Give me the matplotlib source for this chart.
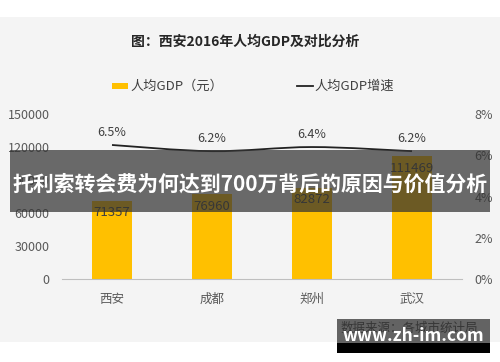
import numpy as np
import matplotlib
matplotlib.use("Agg")
import matplotlib.pyplot as plt
from matplotlib.patches import Rectangle, PathPatch
from matplotlib.path import Path

plt.rcParams["font.family"] = ["Noto Sans CJK SC", "DejaVu Sans"]

cities = ["西安", "成都", "郑州", "武汉"]
gdp_per_capita = [71357, 76960, 82872, 111469]
growth_rate = [6.5, 6.2, 6.4, 6.2]
left_ticks = [0, 30000, 60000, 90000, 120000, 150000]
right_ticks = [0, 2, 4, 6, 8]

title = "图：西安2016年人均GDP及对比分析"
banner = "托利索转会费为何达到700万背后的原因与价值分析"
source = "数据来源：各城市统计局"
watermark = "www.zh-im.com"

BAR = "#FFC000"
TICK = "#595959"


def smooth_path(x, y):
    # Catmull-Rom turned into cubic bezier segments
    pts = np.column_stack([x, y]).astype(float)
    verts = [pts[0]]
    codes = [Path.MOVETO]
    for i in range(len(pts) - 1):
        p0 = pts[i - 1] if i > 0 else pts[i]
        p1, p2 = pts[i], pts[i + 1]
        p3 = pts[i + 2] if i + 2 < len(pts) else pts[i + 1]
        c1 = p1 + (p2 - p0) / 6
        c2 = p2 - (p3 - p1) / 6
        verts += [c1, c2, p2]
        codes += [Path.CURVE4] * 3
    return Path(verts, codes)


fig = plt.figure(figsize=(5, 3.62), dpi=100)
fig.patch.set_facecolor("white")
fig.patches.append(Rectangle((0, 1 - 342 / 362), 1, (342 - 17) / 362,
                             transform=fig.transFigure, facecolor="#f4f4f4",
                             edgecolor="none", zorder=-5))

ax = fig.add_axes([0.124, 0.229, 0.8, 0.456])
ax.set_facecolor("none")
x = np.arange(len(cities))
ax.bar(x, gdp_per_capita, width=0.4, color=BAR, zorder=2)
for xi, v in zip(x, gdp_per_capita):
    ax.text(xi, v - 5000, str(v), ha="center", va="top", fontsize=9.5,
            color="#404040", zorder=3)

ax.set_xlim(-0.5, len(cities) - 0.5)
ax.set_ylim(0, 150000)
ax.set_yticks(left_ticks)
ax.set_xticks(x)
ax.set_xticklabels(cities)
for s in ["top", "right", "left"]:
    ax.spines[s].set_visible(False)
ax.spines["bottom"].set_color("#bfbfbf")
ax.tick_params(axis="both", length=0, colors=TICK, labelsize=9)
ax.tick_params(axis="x", pad=10)
ax.tick_params(axis="y", pad=9)

ax2 = ax.twinx()
ax2.set_ylim(0, 8)
ax2.set_yticks(right_ticks)
ax2.set_yticklabels([f"{t}%" for t in right_ticks])
for s in ax2.spines.values():
    s.set_visible(False)
ax2.tick_params(axis="y", length=0, colors=TICK, labelsize=9, pad=9)
ax2.add_patch(PathPatch(smooth_path(x, growth_rate), facecolor="none",
                        edgecolor="#222222", linewidth=1.3, zorder=3))
for xi, v in zip(x, growth_rate):
    ax2.text(xi, v + 0.3, f"{v}%", ha="center", va="bottom", fontsize=9,
             color="#404040")

fig.text(0.49, 1 - 42 / 362, title, ha="center", va="center", fontsize=10,
         fontweight="bold", color="#262626")

# legend
fig.patches.append(Rectangle((112 / 500, 1 - 89 / 362), 16 / 500, 6 / 362,
                             transform=fig.transFigure, facecolor=BAR,
                             edgecolor="none"))
fig.text(130 / 500, 1 - 86 / 362, "人均GDP（元）", va="center", fontsize=9.5,
         color="#404040")
fig.lines.append(plt.Line2D([297 / 500, 313 / 500], [1 - 86 / 362] * 2,
                            transform=fig.transFigure, color="#222222",
                            linewidth=1.3))
fig.text(314 / 500, 1 - 86 / 362, "人均GDP增速", va="center", fontsize=9.5,
         color="#404040")

# overlay banner
fig.patches.append(Rectangle((10 / 500, 1 - 212 / 362), 480 / 500, 62 / 362,
                             transform=fig.transFigure, facecolor="#333333",
                             alpha=0.72, edgecolor="none", zorder=5))
fig.text(0.5, 1 - 184 / 362, banner, ha="center", va="center", fontsize=15,
         fontweight="bold", color="white", zorder=6)

# source + watermark
fig.text(478 / 500, 1 - 328 / 362, source, ha="right", va="center",
         fontsize=9, color="#404040", zorder=4)
fig.patches.append(Rectangle((337 / 500, 1 - 343 / 362), 153 / 500, 24 / 362,
                             transform=fig.transFigure, facecolor="#333333",
                             alpha=0.75, edgecolor="none", zorder=5))
fig.patches.append(Rectangle((337 / 500, 1 - 353 / 362), 153 / 500, 10 / 362,
                             transform=fig.transFigure, facecolor="black",
                             edgecolor="none", zorder=5))
fig.text(413 / 500, 1 - 336 / 362, watermark, ha="center", va="center",
         fontsize=12.5, fontweight="bold", color="white", zorder=6)

fig.savefig("out.png", dpi=100)
